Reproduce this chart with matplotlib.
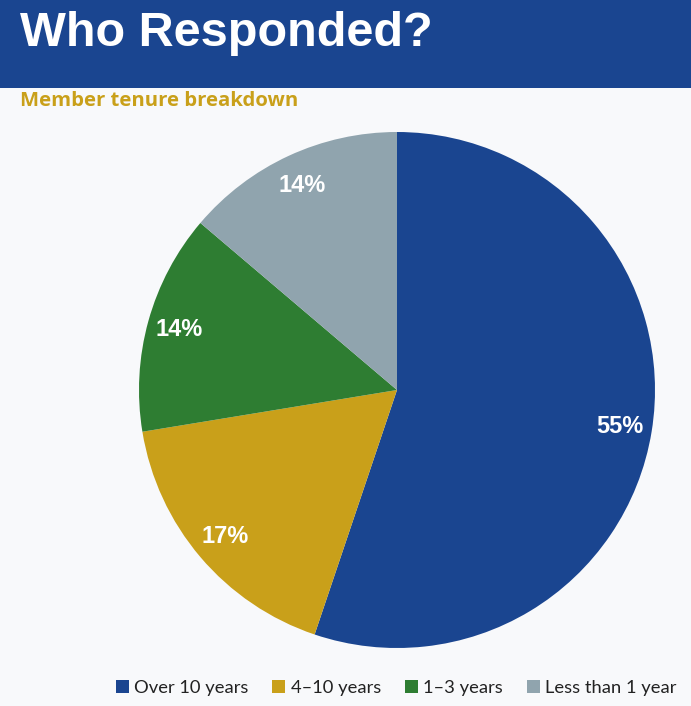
import matplotlib
matplotlib.use("Agg")
import matplotlib.pyplot as plt
from matplotlib.patches import Rectangle

title = "Who Responded?"
subtitle = "Member tenure breakdown"
categories = ["Over 10 years", "4\u201310 years", "1\u20133 years", "Less than 1 year"]
counts = [16, 5, 4, 4]
colors = ["#1a4590", "#c9a01a", "#2e7d32", "#90a4ae"]

W, H = 691, 706
fig = plt.figure(figsize=(W / 100, H / 100), dpi=100)
fig.patch.set_facecolor("#f8f9fb")

# banner
fig.patches.append(Rectangle((0, 1 - 88 / H), 1, 88 / H, transform=fig.transFigure,
                             facecolor="#1a4590", edgecolor="none", zorder=0))
fig.text(20 / W, 1 - 46 / H, title, color="white", fontsize=35, fontweight="bold",
         family=["Liberation Sans", "DejaVu Sans"], ha="left", va="baseline")
fig.text(20 / W, 1 - 101 / H, subtitle, color="#c9a01a", fontsize=14.6, fontweight="bold",
         family=["Open Sans", "DejaVu Sans"], ha="left", va="center")

cx, cy, r = 397, 390, 258
ax = fig.add_axes([(cx - r) / W, (H - cy - r) / H, 2 * r / W, 2 * r / H])
ax.set_facecolor("none")
wedges, texts, autotexts = ax.pie(
    counts, colors=colors, startangle=90, counterclock=False,
    autopct="%.0f%%", pctdistance=0.875, radius=1,
    wedgeprops=dict(edgecolor="none"),
    textprops=dict(color="white", fontsize=17, fontweight="bold",
                   family=["Liberation Sans", "DejaVu Sans"]))
ax.set_xlim(-1, 1)
ax.set_ylim(-1, 1)
ax.axis("off")

leg = fig.legend(wedges, categories, loc="center right", bbox_to_anchor=(693 / W, 1 - 688 / H),
                 ncol=4, frameon=False, handlelength=0.7, handleheight=0.7,
                 handletextpad=0.3, columnspacing=1.3,
                 prop=dict(family=["Lato", "DejaVu Sans"], size=13.2))
for t in leg.get_texts():
    t.set_color("#222222")

fig.savefig("out.png", dpi=100, facecolor=fig.get_facecolor())
